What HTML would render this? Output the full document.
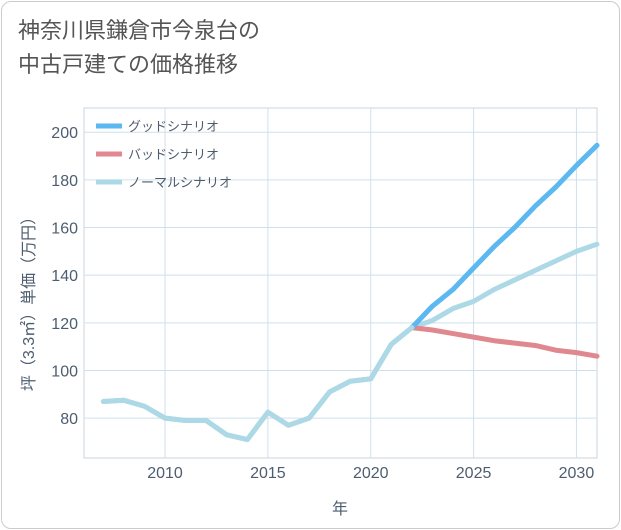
<!DOCTYPE html>
<html><head><meta charset="utf-8"><style>
html,body{margin:0;padding:0;background:#fff;}
body{width:621px;height:530px;overflow:hidden;font-family:"Liberation Sans","Noto Sans CJK JP",sans-serif;}
.card{position:absolute;left:1px;top:1px;width:617px;height:526px;border:1px solid #ccc;border-radius:10px;background:#fff;}
.title{position:absolute;left:18px;top:14px;font-size:22px;line-height:34px;color:#555;}
svg{position:absolute;left:0;top:0;}
</style></head><body>
<div class="card"></div>
<div class="title">神奈川県鎌倉市今泉台の<br>中古戸建ての価格推移</div>
<svg width="621" height="530" id="chart" font-family="Liberation Sans, Noto Sans CJK JP, sans-serif"></svg>
<script>
const years=[2007,2008,2009,2010,2011,2012,2013,2014,2015,2016,2017,2018,2019,2020,2021,2022,2023,2024,2025,2026,2027,2028,2029,2030,2031];
const normalValues=[87,87.5,85,80,79,79,73,71,82.5,77,80,91,95.5,96.5,111,118,121,126,129,134,138,142,146,150,153];
const scenarioYears=[2022,2023,2024,2025,2026,2027,2028,2029,2030,2031];
const goodValues=[118,127,134,143,152,160,169,177,186,194.5];
const badValues=[118,117,115.5,114,112.5,111.5,110.5,108.5,107.5,106];
const xTicks=[2010,2015,2020,2025,2030];
const yTicks=[80,100,120,140,160,180,200];
const legendLabels=["グッドシナリオ","バッドシナリオ","ノーマルシナリオ"];
const NS="http://www.w3.org/2000/svg";
const svg=document.getElementById('chart');
const L=84,R=597,T=108,B=458;
const TXT='#4d5d70';
const x=v=>L+(v-2006.06)/(2031-2006.06)*(R-L);
const y=v=>370.5-(v-100)*2.383;
function mk(tag,attrs,parent){const e=document.createElementNS(NS,tag);for(const k in attrs)e.setAttribute(k,attrs[k]);(parent||svg).appendChild(e);return e;}
const frame=mk('rect',{x:L,y:T,width:R-L,height:B-T,fill:'#fff',stroke:'#c8d4de',"stroke-width":1});


xTicks.forEach(t=>{
  const g=mk('line',{x1:x(t),x2:x(t),y1:T,y2:B,stroke:'#cfe0ec'});
  
  
  const tx=mk('text',{x:x(t),y:478,"text-anchor":"middle","font-size":16,fill:TXT});
  tx.textContent=t;
  
  
});
yTicks.forEach(t=>{
  const g=mk('line',{x1:L,x2:R,y1:y(t),y2:y(t),stroke:'#cfe0ec'});
  
  
  const tx=mk('text',{x:78,y:y(t)+6,"text-anchor":"end","font-size":16,fill:TXT});
  tx.textContent=t;
  
  
});
const xt=mk('text',{x:340,y:514,"text-anchor":"middle","font-size":16,fill:TXT});
xt.textContent='年';


const yt=mk('text',{x:0,y:0,"text-anchor":"middle","font-size":16,fill:TXT,transform:'translate(34,300) rotate(-90)'});
yt.textContent='坪（3.3㎡）単価（万円）';


function line(xs,vs,color,name){
  const p=mk('polyline',{points:xs.map((v,i)=>x(v)+','+y(vs[i])).join(' '),fill:'none',stroke:color,"stroke-width":5,"stroke-linejoin":"round","stroke-linecap":"round"});
  
  
}
line(years,normalValues,'#add8e6','normal-scenario-line');
line(scenarioYears,badValues,'#e08890','bad-scenario-line');
line(scenarioYears,goodValues,'#5bb8f0','good-scenario-line');
line(years.slice(0,16),normalValues.slice(0,16),'#add8e6','history-line');
const legColors=['#5bb8f0','#e08890','#add8e6'];
legendLabels.forEach((lab,i)=>{
  const yy=126+i*28;
  const l=mk('line',{x1:96,x2:122,y1:yy,y2:yy,stroke:legColors[i],"stroke-width":5});
  
  
  const t=mk('text',{x:128,y:yy+5,"font-size":13,fill:TXT});
  t.textContent=lab;
  
  
});
</script>
</body></html>
